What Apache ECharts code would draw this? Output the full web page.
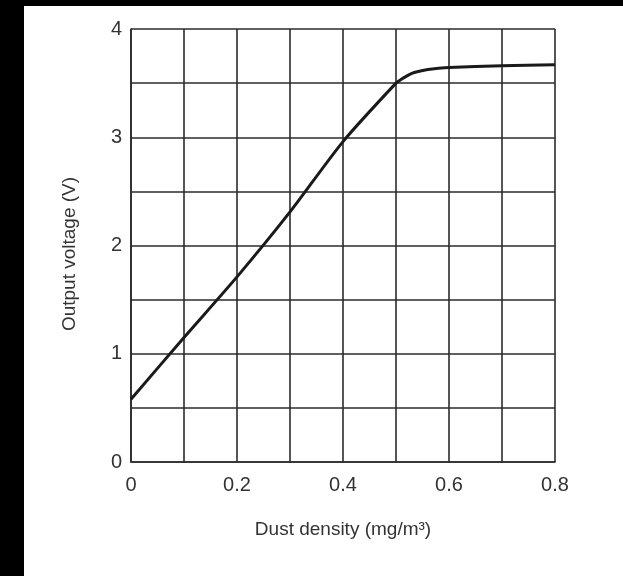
<!DOCTYPE html>
<html>
<head>
<meta charset="utf-8">
<script src="https://cdn.jsdelivr.net/npm/echarts@6/dist/echarts.min.js"></script>
<style>
  html, body { margin: 0; padding: 0; background: #000; width: 623px; height: 576px; overflow: hidden; }
  #chart { position: absolute; left: 24px; top: 6px; width: 599px; height: 570px; background: #fff; }
</style>
</head>
<body>
<div id="chart"></div>
<script>
// dust density (mg/m3) vs output voltage (V)
const density = [0, 0.1, 0.2, 0.3, 0.4, 0.5, 0.51, 0.52, 0.53, 0.54, 0.56, 0.58, 0.6, 0.7, 0.8]
const voltage = [0.58, 1.15, 1.71, 2.31, 2.96, 3.5, 3.535, 3.565, 3.59, 3.605, 3.625, 3.637, 3.645, 3.66, 3.67]
const xTicks = [0, 0.2, 0.4, 0.6, 0.8]
const yTicks = [0, 1, 2, 3, 4]

const chart = echarts.init(document.getElementById('chart'))

const gridLine = { show: true, lineStyle: { color: '#2b2b2b', width: 1.6 } }
const labelFont = { color: '#333', fontFamily: 'Liberation Sans', fontSize: 20 }
const nameFont = { color: '#333', fontFamily: 'Liberation Sans', fontSize: 19 }

chart.setOption({
  animation: false,
  grid: { left: 107, top: 23, width: 424, height: 433 },
  xAxis: {
    type: 'value', min: 0, max: 0.8, interval: 0.1,
    name: 'Dust density (mg/m³)', nameLocation: 'middle', nameGap: 58,
    nameTextStyle: nameFont,
    axisLine: { show: true, lineStyle: { color: '#2b2b2b', width: 1.6 } },
    axisTick: { show: false },
    splitLine: gridLine,
    axisLabel: Object.assign({}, labelFont, {
      margin: 13,
      formatter: v => xTicks.some(t => Math.abs(t - v) < 1e-9) ? String(Math.round(v * 10) / 10) : ''
    })
  },
  yAxis: {
    type: 'value', min: 0, max: 4, interval: 0.5,
    name: 'Output voltage (V)', nameLocation: 'middle', nameGap: 52,
    nameTextStyle: Object.assign({}, nameFont, { padding: [0, 17, 0, 0] }),
    axisLine: { show: true, lineStyle: { color: '#2b2b2b', width: 1.6 } },
    axisTick: { show: false },
    splitLine: gridLine,
    axisLabel: Object.assign({}, labelFont, {
      margin: 9,
      padding: [6, 0, 0, 0],
      formatter: v => yTicks.includes(v) ? String(v) : ''
    })
  },
  series: [{
    type: 'line',
    data: density.map((d, i) => [d, voltage[i]]),
    smooth: 0.25,
    symbol: 'none',
    lineStyle: { color: '#1a1a1a', width: 3, join: 'round' }
  }]
})
</script>
</body>
</html>
